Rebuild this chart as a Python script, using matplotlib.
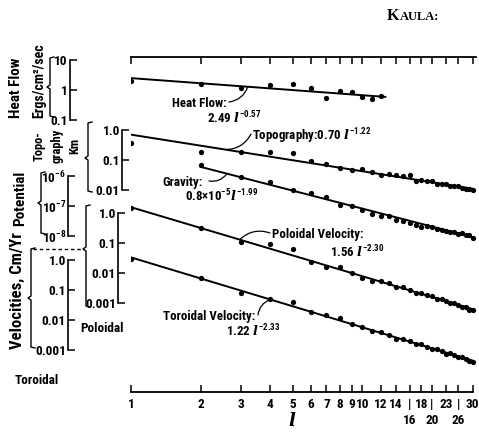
import numpy as np
import matplotlib
matplotlib.use('Agg')
import matplotlib.pyplot as plt
from matplotlib import font_manager as fm
from matplotlib.lines import Line2D
from matplotlib.ticker import FixedLocator, FixedFormatter, NullLocator

# ---------------- data ----------------
l_ticks = [1, 2, 3, 4, 5, 6, 7, 8, 9, 10, 12, 14, 16, 18, 20, 23, 26, 30]
l_tick_labels = ['1', '2', '3', '4', '5', '6', '7', '8', '9', '10', '12', '14',
                 '|', '18', '|', '23', '|', '30']
l_row2_ticks = [16, 20, 26]
l_row2_labels = ['16', '20', '26']

heat_l = list(range(1, 13))
heat_v = [1.93, 1.61, 1.17, 1.47, 1.53, 1.21, 0.553, 0.913, 0.882, 0.600, 0.508, 0.628]

topo_l = list(range(1, 31))
topo_v = [0.362, 0.187, 0.183, 0.189, 0.167, 0.0959, 0.0734, 0.0554, 0.0480, 0.0514,
          0.0410, 0.0319, 0.0332, 0.0320, 0.0283, 0.0309, 0.0204, 0.0223, 0.0193, 0.0196,
          0.0164, 0.0161, 0.0159, 0.0134, 0.0138, 0.0137, 0.0116, 0.0111, 0.0111, 0.0102]

grav_l = list(range(2, 31))
grav_v = [2.36e-6, 9.35e-7, 6.09e-7, 3.41e-7, 2.63e-7, 2.00e-7, 1.04e-7, 1.03e-7, 7.56e-8,
          5.55e-8, 4.82e-8, 4.67e-8, 3.35e-8, 3.12e-8, 2.76e-8, 2.24e-8, 1.94e-8, 2.11e-8,
          1.93e-8, 1.66e-8, 1.58e-8, 1.44e-8, 1.38e-8, 1.32e-8, 1.18e-8, 1.27e-8, 1.06e-8,
          1.05e-8, 8.84e-9]

pol_l = list(range(1, 31))
pol_v = [1.44, 0.305, 0.111, 0.0920, 0.0635, 0.0225, 0.0164, 0.0153, 0.00996, 0.00667,
         0.00558, 0.00557, 0.00463, 0.00333, 0.00333, 0.00265, 0.00213, 0.00219, 0.00179,
         0.00165, 0.00131, 0.00138, 0.00115, 0.000964, 0.000989, 0.000868, 0.000735,
         0.000732, 0.000600, 0.000577]

tor_l = list(range(1, 31))
tor_v = [1.07, 0.259, 0.0811, 0.0502, 0.0401, 0.0180, 0.0146, 0.0118, 0.00729, 0.00571,
         0.00422, 0.00404, 0.00310, 0.00241, 0.00240, 0.00199, 0.00153, 0.00157, 0.00128,
         0.00109, 0.00110, 0.000909, 0.000757, 0.000772, 0.000675, 0.000569, 0.000587,
         0.000518, 0.000441, 0.000392]

# fitted power laws  A * l^p  and the l-range of each drawn line
fit_amp = [2.49, 0.70, 0.8e-5, 1.56, 1.22]
fit_exp = [-0.57, -1.22, -1.99, -2.30, -2.33]
fit_from = [1, 1, 2, 1, 1]
fit_to = [12.6, 30, 30, 30, 30]

# ---------------- font choice (a narrow sans if one is installed) ----------------
def pick_font():
    fl = fm.fontManager.ttflist
    names = {f.name for f in fl}
    for n in ['Liberation Sans Narrow', 'Arial Narrow', 'Roboto Condensed',
              'Open Sans Condensed', 'Noto Sans Condensed', 'DejaVu Sans Condensed']:
        if n in names:
            return n, 'normal', 1.0
    for n in ['DejaVu Sans', 'Noto Sans', 'Open Sans', 'Roboto']:
        for f in fl:
            st = f.stretch
            if isinstance(st, str):
                ok = st in ('condensed', 'semi-condensed', 'extra-condensed')
            else:
                ok = st < 500
            if f.name == n and ok:
                return n, 'condensed', 0.92
    return 'Liberation Sans', 'normal', 0.86

FAM, STRETCH, SZ = pick_font()
plt.rcParams['font.family'] = [FAM, 'DejaVu Sans']
plt.rcParams['font.stretch'] = STRETCH
spec = FAM if STRETCH == 'normal' else FAM + ':' + STRETCH
plt.rcParams['mathtext.fontset'] = 'custom'
plt.rcParams['mathtext.rm'] = spec + ':bold'
plt.rcParams['mathtext.it'] = 'DejaVu Serif:italic:bold'
plt.rcParams['mathtext.bf'] = spec + ':bold'

W, H = 479, 434
def fx(px):
    return px / W
def fy(py):
    return 1 - py / H

X0, X1 = 131, 476      # pixel span of l = 1 .. 31
Y0, Y1 = 57, 392       # top and bottom axis lines
box = [fx(X0), fy(Y1), fx(X1) - fx(X0), fy(Y0) - fy(Y1)]

fig = plt.figure(figsize=(W / 100, H / 100), dpi=100)
fig.patch.set_facecolor('white')

ax = fig.add_axes(box)
ax.set_xscale('log')
ax.set_xlim(1, 31)
ax.set_ylim(0, 1)
ax.set_yticks([])
ax.patch.set_visible(False)
for s in ['left', 'right']:
    ax.spines[s].set_visible(False)
for s in ['top', 'bottom']:
    ax.spines[s].set_linewidth(1.3)
ax.spines['bottom'].set_bounds(1, 30)
ax.xaxis.remove_overlapping_locs = False
ax.xaxis.set_major_locator(FixedLocator(l_ticks))
ax.xaxis.set_major_formatter(FixedFormatter(l_tick_labels))
ax.xaxis.set_minor_locator(FixedLocator(l_row2_ticks))
ax.xaxis.set_minor_formatter(FixedFormatter(l_row2_labels))
ax.tick_params(axis='x', which='major', direction='in', length=5, width=1.1,
               top=True, labeltop=False, pad=4, labelsize=9.5 * SZ)
ax.tick_params(axis='x', which='minor', direction='in', length=0, top=False,
               labeltop=False, pad=16, labelsize=9.5 * SZ)
for t in ax.get_xticklabels(which='both'):
    t.set_fontweight('bold')

fig.text(fx(292), fy(426), r'$\mathit{l}$', fontsize=13, ha='center', va='baseline')

# per-series mapping: (reference value, pixel y of it, pixels per decade)
maps = [(1.0, 90, 30), (1.0, 130, 30), (1e-6, 176, 30), (1.0, 213, 30), (1.0, 260, 30)]
series_l = [heat_l, topo_l, grav_l, pol_l, tor_l]
series_v = [heat_v, topo_v, grav_v, pol_v, tor_v]

def ypix(m, v):
    vref, yref, k = m
    return yref - (np.log10(v) - np.log10(vref)) * k

axes_s = []
for i, m in enumerate(maps):
    a = fig.add_axes(box, sharex=ax)
    a.set_yscale('log')
    vref, yref, k = m
    lv = np.log10(vref)
    a.set_ylim(10 ** (lv - (Y1 - yref) / k), 10 ** (lv + (yref - Y0) / k))
    a.axis('off')
    ll = np.geomspace(fit_from[i], fit_to[i], 50)
    a.plot(ll, fit_amp[i] * ll ** fit_exp[i], color='black', lw=1.4, solid_capstyle='round')
    a.plot(series_l[i], series_v[i], 'o', color='black', ms=3.8, mec='none')
    axes_s.append(a)

def fit_at(i, l):
    return fit_amp[i] * l ** fit_exp[i]

# ---------------- left scales ----------------
def make_scale(xpx, m, vals, labels):
    lo, hi = min(vals), max(vals)
    ylo, yhi = ypix(m, lo), ypix(m, hi)
    s = fig.add_axes([fx(xpx), fy(ylo), 0.0001, fy(yhi) - fy(ylo)])
    s.set_yscale('log')
    s.set_ylim(lo, hi)
    s.patch.set_visible(False)
    for sp in ['right', 'top', 'bottom']:
        s.spines[sp].set_visible(False)
    s.spines['left'].set_linewidth(1.2)
    s.set_xticks([])
    s.yaxis.set_major_locator(FixedLocator(vals))
    s.yaxis.set_major_formatter(FixedFormatter(labels))
    s.yaxis.set_minor_locator(NullLocator())
    s.tick_params(axis='y', direction='in', length=5, width=1.1, pad=1.5, labelsize=9.5 * SZ)
    for t in s.get_yticklabels():
        t.set_fontweight('bold')
    return s

make_scale(70, maps[0], [0.1, 1, 10], ['0.1', '1', '10'])
make_scale(122, maps[1], [0.01, 0.1, 1.0], ['0.01', '0.1', '1.0'])
make_scale(68, maps[2], [1e-8, 1e-7, 1e-6], [r'$10^{-8}$', r'$10^{-7}$', r'$10^{-6}$'])
make_scale(118, maps[3], [0.001, 0.01, 0.1, 1.0], ['0.001', '0.01', '0.1', '1.0'])
make_scale(68, maps[4], [0.001, 0.01, 0.1, 1.0], ['0.001', '0.01', '0.1', '1.0'])

# ---------------- braces and left labels ----------------
def brace(x, ytop, ybot, ytip, hook=4, tip=3):
    xs = [x + hook, x, x, x - tip, x, x, x + hook]
    ys = [ytop, ytop + 1, ytip - 2, ytip, ytip + 2, ybot - 1, ybot]
    fig.add_artist(Line2D([fx(v) for v in xs], [fy(v) for v in ys],
                          transform=fig.transFigure, color='black', lw=1.0))

brace(50, 57, 117, 87)
brace(88, 122, 192, 158)
brace(41, 172, 234, 203)
brace(31, 248, 348, 298)
brace(86, 205, 307, 249)
fig.add_artist(Line2D([fx(33), fx(83)], [fy(249), fy(249)], transform=fig.transFigure,
                      color='black', lw=1.0, ls=(0, (2.5, 2))))

lab = dict(rotation=90, ha='center', va='center', fontweight='bold')
fig.text(fx(16), fy(88), 'Heat Flow', fontsize=11 * SZ, **lab)
fig.text(fx(39), fy(81), 'Ergs/cm\u00b2/sec', fontsize=10 * SZ, **lab)
fig.text(fx(57), fy(146), 'Topo-\ngraphy\nKm', fontsize=9 * SZ, linespacing=1.45,
         multialignment='center', **lab)
fig.text(fx(20), fy(198), 'Potential', fontsize=11 * SZ, **lab)
fig.text(fx(17), fy(291), 'Velocities, Cm/Yr', fontsize=12 * SZ, **lab)
fig.text(fx(80), fy(332), 'Poloidal', fontsize=9.5 * SZ, fontweight='bold', va='baseline')
fig.text(fx(15), fy(384), 'Toroidal', fontsize=9.5 * SZ, fontweight='bold', va='baseline')

# ---------------- annotations ----------------
ann = dict(fontsize=9.3 * SZ, fontweight='bold', va='baseline', ha='left')
fig.text(fx(172), fy(107), 'Heat Flow:', **ann)
fig.text(fx(207), fy(123), r'2.49 $\mathit{l}^{-0.57}$', **ann)
fig.text(fx(252), fy(140), r'Topography:0.70 $\mathit{l}^{-1.22}$', **ann)
fig.text(fx(162), fy(186), 'Gravity:', **ann)
fig.text(fx(185), fy(201), r'0.8$\times$10$^{-5}$$\mathit{l}^{-1.99}$', **ann)
fig.text(fx(272), fy(238), 'Poloidal Velocity:', **ann)
fig.text(fx(330), fy(257), r'1.56 $\mathit{l}^{-2.30}$', **ann)
fig.text(fx(163), fy(320), 'Toroidal Velocity:', **ann)
fig.text(fx(226), fy(336), r'1.22 $\mathit{l}^{-2.33}$', **ann)

leaders = [(0, 3.2, (229, 102), 0.3), (1, 2.55, (251, 134), -0.3), (2, 2.6, (209, 181), 0.3),
           (3, 2.95, (270, 233), 0.3), (4, 4.0, (258, 315), -0.3)]
for i, lp, (tx, ty), rad in leaders:
    axes_s[i].annotate('', xy=(lp, fit_at(i, lp)), xycoords='data',
                       xytext=(fx(tx), fy(ty)), textcoords='figure fraction',
                       arrowprops=dict(arrowstyle='-', connectionstyle='arc3,rad=%s' % rad,
                                       lw=0.9, color='black', shrinkA=0, shrinkB=0))

# ---------------- header ----------------
fig.text(fx(387), fy(20), 'K', fontsize=11.5, family='Liberation Serif', fontweight='bold',
         va='baseline')
fig.text(fx(399.5), fy(20), 'AULA:', fontsize=9, family='Liberation Serif',
         fontweight='bold', va='baseline')

fig.savefig('out.png', dpi=100)
